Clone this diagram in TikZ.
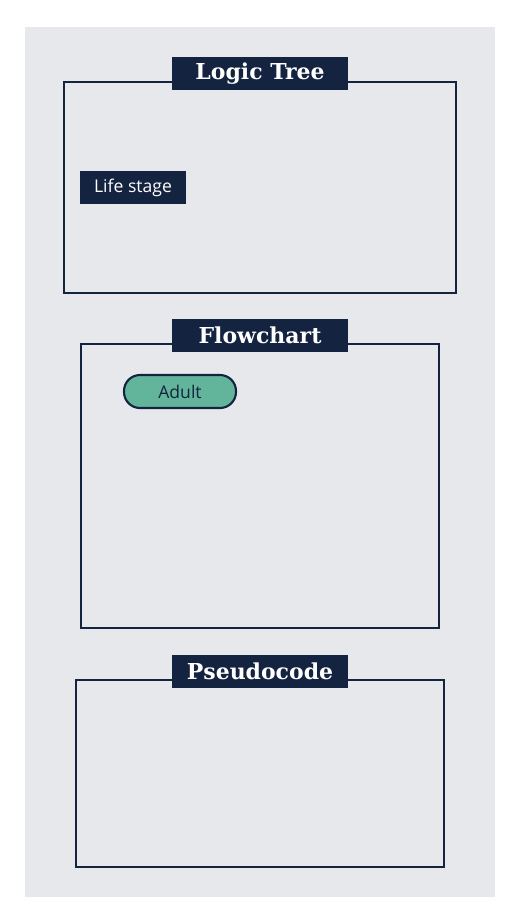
\documentclass[tikz,border=0pt]{standalone}
\usepackage{fontspec}
\setmainfont{DejaVu Serif}
\newfontfamily\opensans{Open Sans}
\usepackage{xcolor}
\definecolor{navy}{HTML}{14233F}
\definecolor{panelbg}{HTML}{E7E8EC}
\definecolor{mint}{HTML}{62B59A}
\tikzset{panel/.style={draw=navy,line width=1.5pt},
    paneltitle/.style={fill=navy,text=white,font=\bfseries\fontsize{12.5}{15}\selectfont,
        minimum width=176*0.02cm,minimum height=33*0.02cm,inner sep=0pt},
    labelbox/.style={fill=navy,text=white,font=\opensans\fontsize{10}{12}\selectfont,
        minimum width=106*0.02cm,minimum height=33*0.02cm,inner sep=0pt},
    pill/.style={fill=mint,draw=navy,line width=1.2pt,text=navy,rounded corners=16*0.02cm,
        font=\opensans\fontsize{10}{12}\selectfont,
        minimum width=112*0.02cm,minimum height=33*0.02cm,inner sep=0pt}}

\begin{document}
\begin{tikzpicture}[x=0.02cm,y=-0.02cm]
            \useasboundingbox (0,0) rectangle (520,924);
            \fill[panelbg] (25,27) rectangle (495,897);
            % logic tree
            \draw[panel] (64,82) rectangle (456,293);
            \node[paneltitle] (treetitle) at (260,73.5) {Logic Tree};
            \node[labelbox] (lifestage) at (133,187.5) {Life stage};
            % flowchart
            \draw[panel] (81,344) rectangle (439,628);
            \node[paneltitle] (flowtitle) at (260,335.5) {Flowchart};
            \node[pill] (adult) at (180,391.5) {Adult};
            % pseudocode
            \draw[panel] (76,680) rectangle (444,867);
            \node[paneltitle] (codetitle) at (260,671.5) {Pseudocode};
        \end{tikzpicture}
\end{document}
